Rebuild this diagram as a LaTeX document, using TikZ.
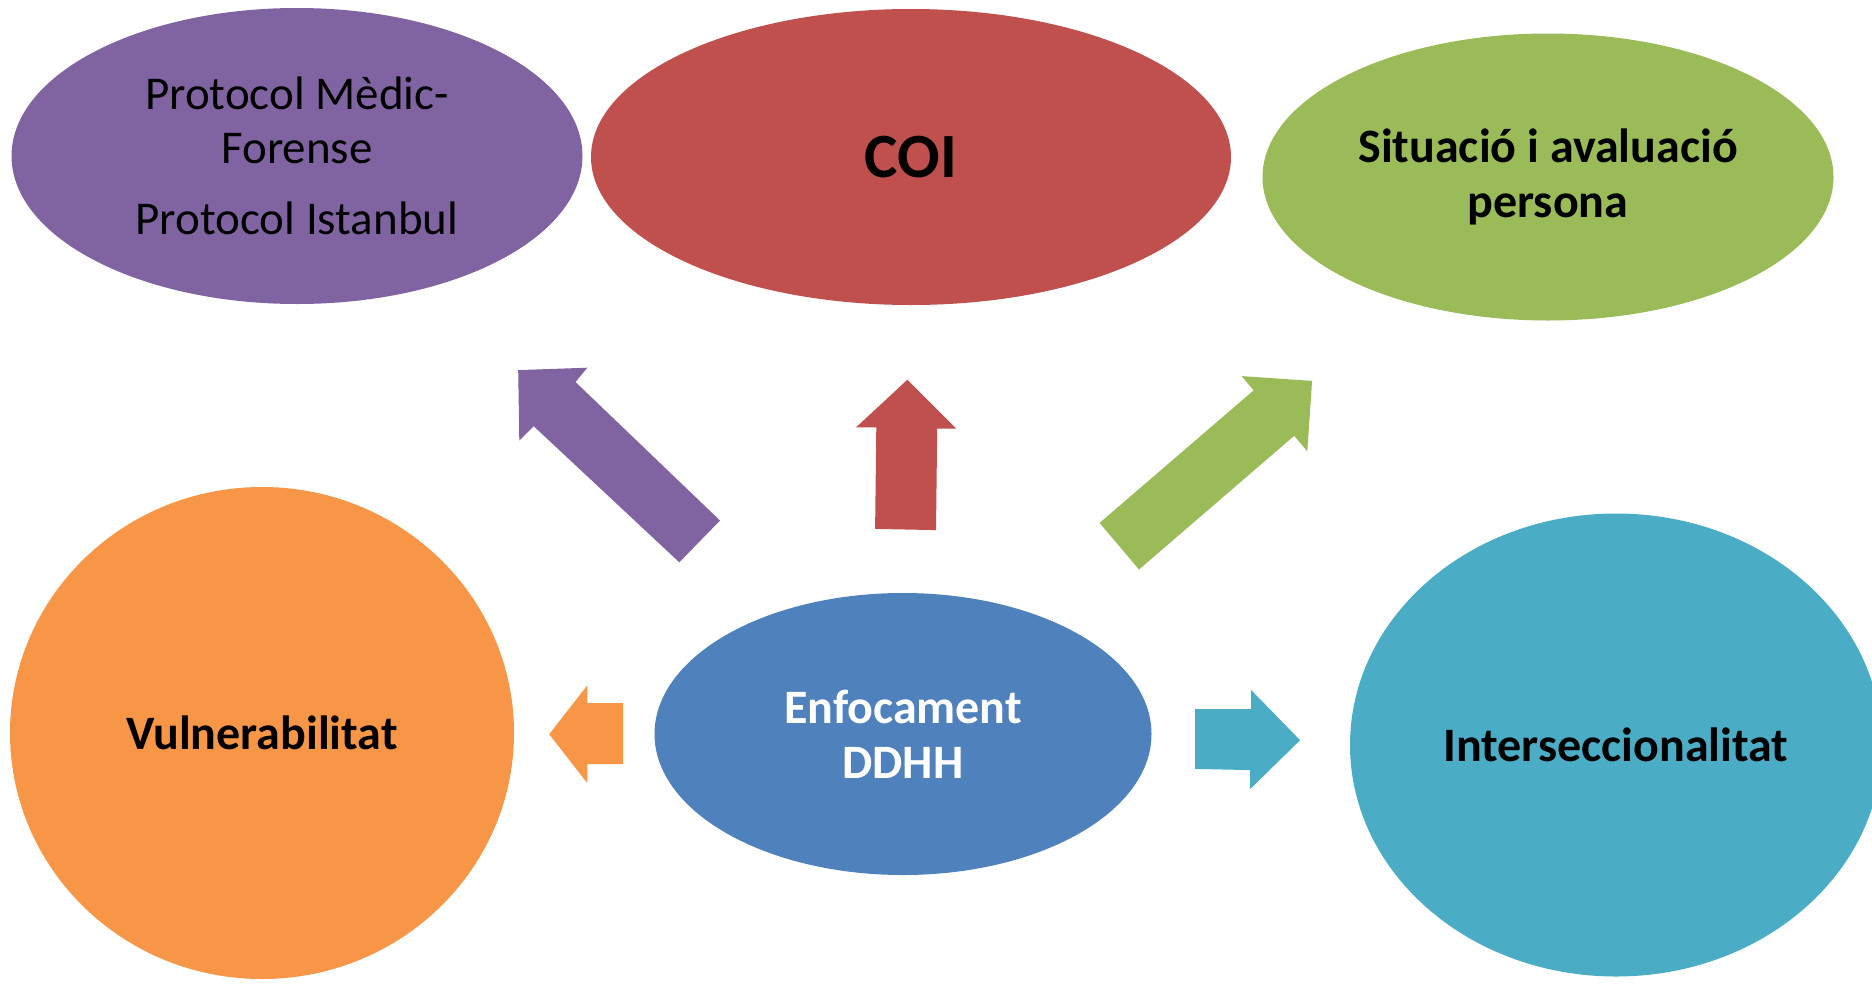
\documentclass[tikz,border=0pt]{standalone}
\usepackage{fontspec}
\setmainfont{Carlito}
\usetikzlibrary{shapes.geometric}
\definecolor{cpurple}{HTML}{8064A2}
\definecolor{cred}{HTML}{C0504D}
\definecolor{cgreen}{HTML}{9BBB59}
\definecolor{corange}{HTML}{F79646}
\definecolor{cblue}{HTML}{4F81BD}
\definecolor{cteal}{HTML}{4BACC6}
\tikzset{
  blob/.style={ellipse, inner sep=0pt, align=center, text=black,
    font=\fontsize{48}{55}\selectfont\bfseries},
  blockarrow/.style={draw=none}
}
\begin{document}
\begin{tikzpicture}[x=1pt,y=-1pt]
\useasboundingbox (0,0) rectangle (1872,983);
% ellipses
\node[blob, fill=cpurple, minimum width=571pt, minimum height=296pt,
  font=\fontsize{47}{54}\selectfont] (med) at (297,156)
  {Protocol Mèdic-\\Forense\\[17pt]Protocol Istanbul};
\node[blob, fill=cred, minimum width=640pt, minimum height=296pt,
  font=\fontsize{63}{70}\selectfont\bfseries] (coi) at (911,157) {COI};
\node[blob, fill=cgreen, minimum width=571pt, minimum height=287pt] (sit) at (1548,177)
  {Situació i avaluació\\persona};
\node[blob, fill=corange, minimum width=504pt, minimum height=492pt] (vul) at (262,733)
  {Vulnerabilitat};
\node[blob, fill=cblue, minimum width=497pt, minimum height=282pt, text=white] (enf) at (903,734)
  {Enfocament\\DDHH};
\node[blob, fill=cteal, minimum width=532pt, minimum height=463pt] (int) at (1616,745)
  {Interseccionalitat};
% block arrows
\fill[blockarrow, cpurple] (720,520.5) -- (575.5,382) -- (587.4,367.7) -- (518.2,370.1)
  -- (519.3,440.5) -- (533.7,426.2) -- (679.3,562.3) -- cycle;
\fill[blockarrow, cred] (875.1,528.9) -- (936,530.1) -- (937.2,428.6) -- (956.3,428.6)
  -- (907.4,379.7) -- (856,427.4) -- (876.3,427.4) -- cycle;
\fill[blockarrow, cgreen] (1099.6,522.9) -- (1253.6,390.4) -- (1241.7,376.1) -- (1312.1,380.9)
  -- (1307.3,451.3) -- (1294.2,435.8) -- (1139,569.5) -- cycle;
\fill[blockarrow, corange] (623.2,703.2) -- (587.4,703.2) -- (587.4,685.3) -- (549.2,734.2)
  -- (587.4,783.2) -- (587.4,764.1) -- (623.2,764.1) -- cycle;
\fill[blockarrow, cteal] (1195.1,709.2) -- (1251.2,709.2) -- (1251.2,690.1) -- (1300.1,740.2)
  -- (1250,789.2) -- (1250,770.1) -- (1195.1,768.9) -- cycle;
\end{tikzpicture}
\end{document}
